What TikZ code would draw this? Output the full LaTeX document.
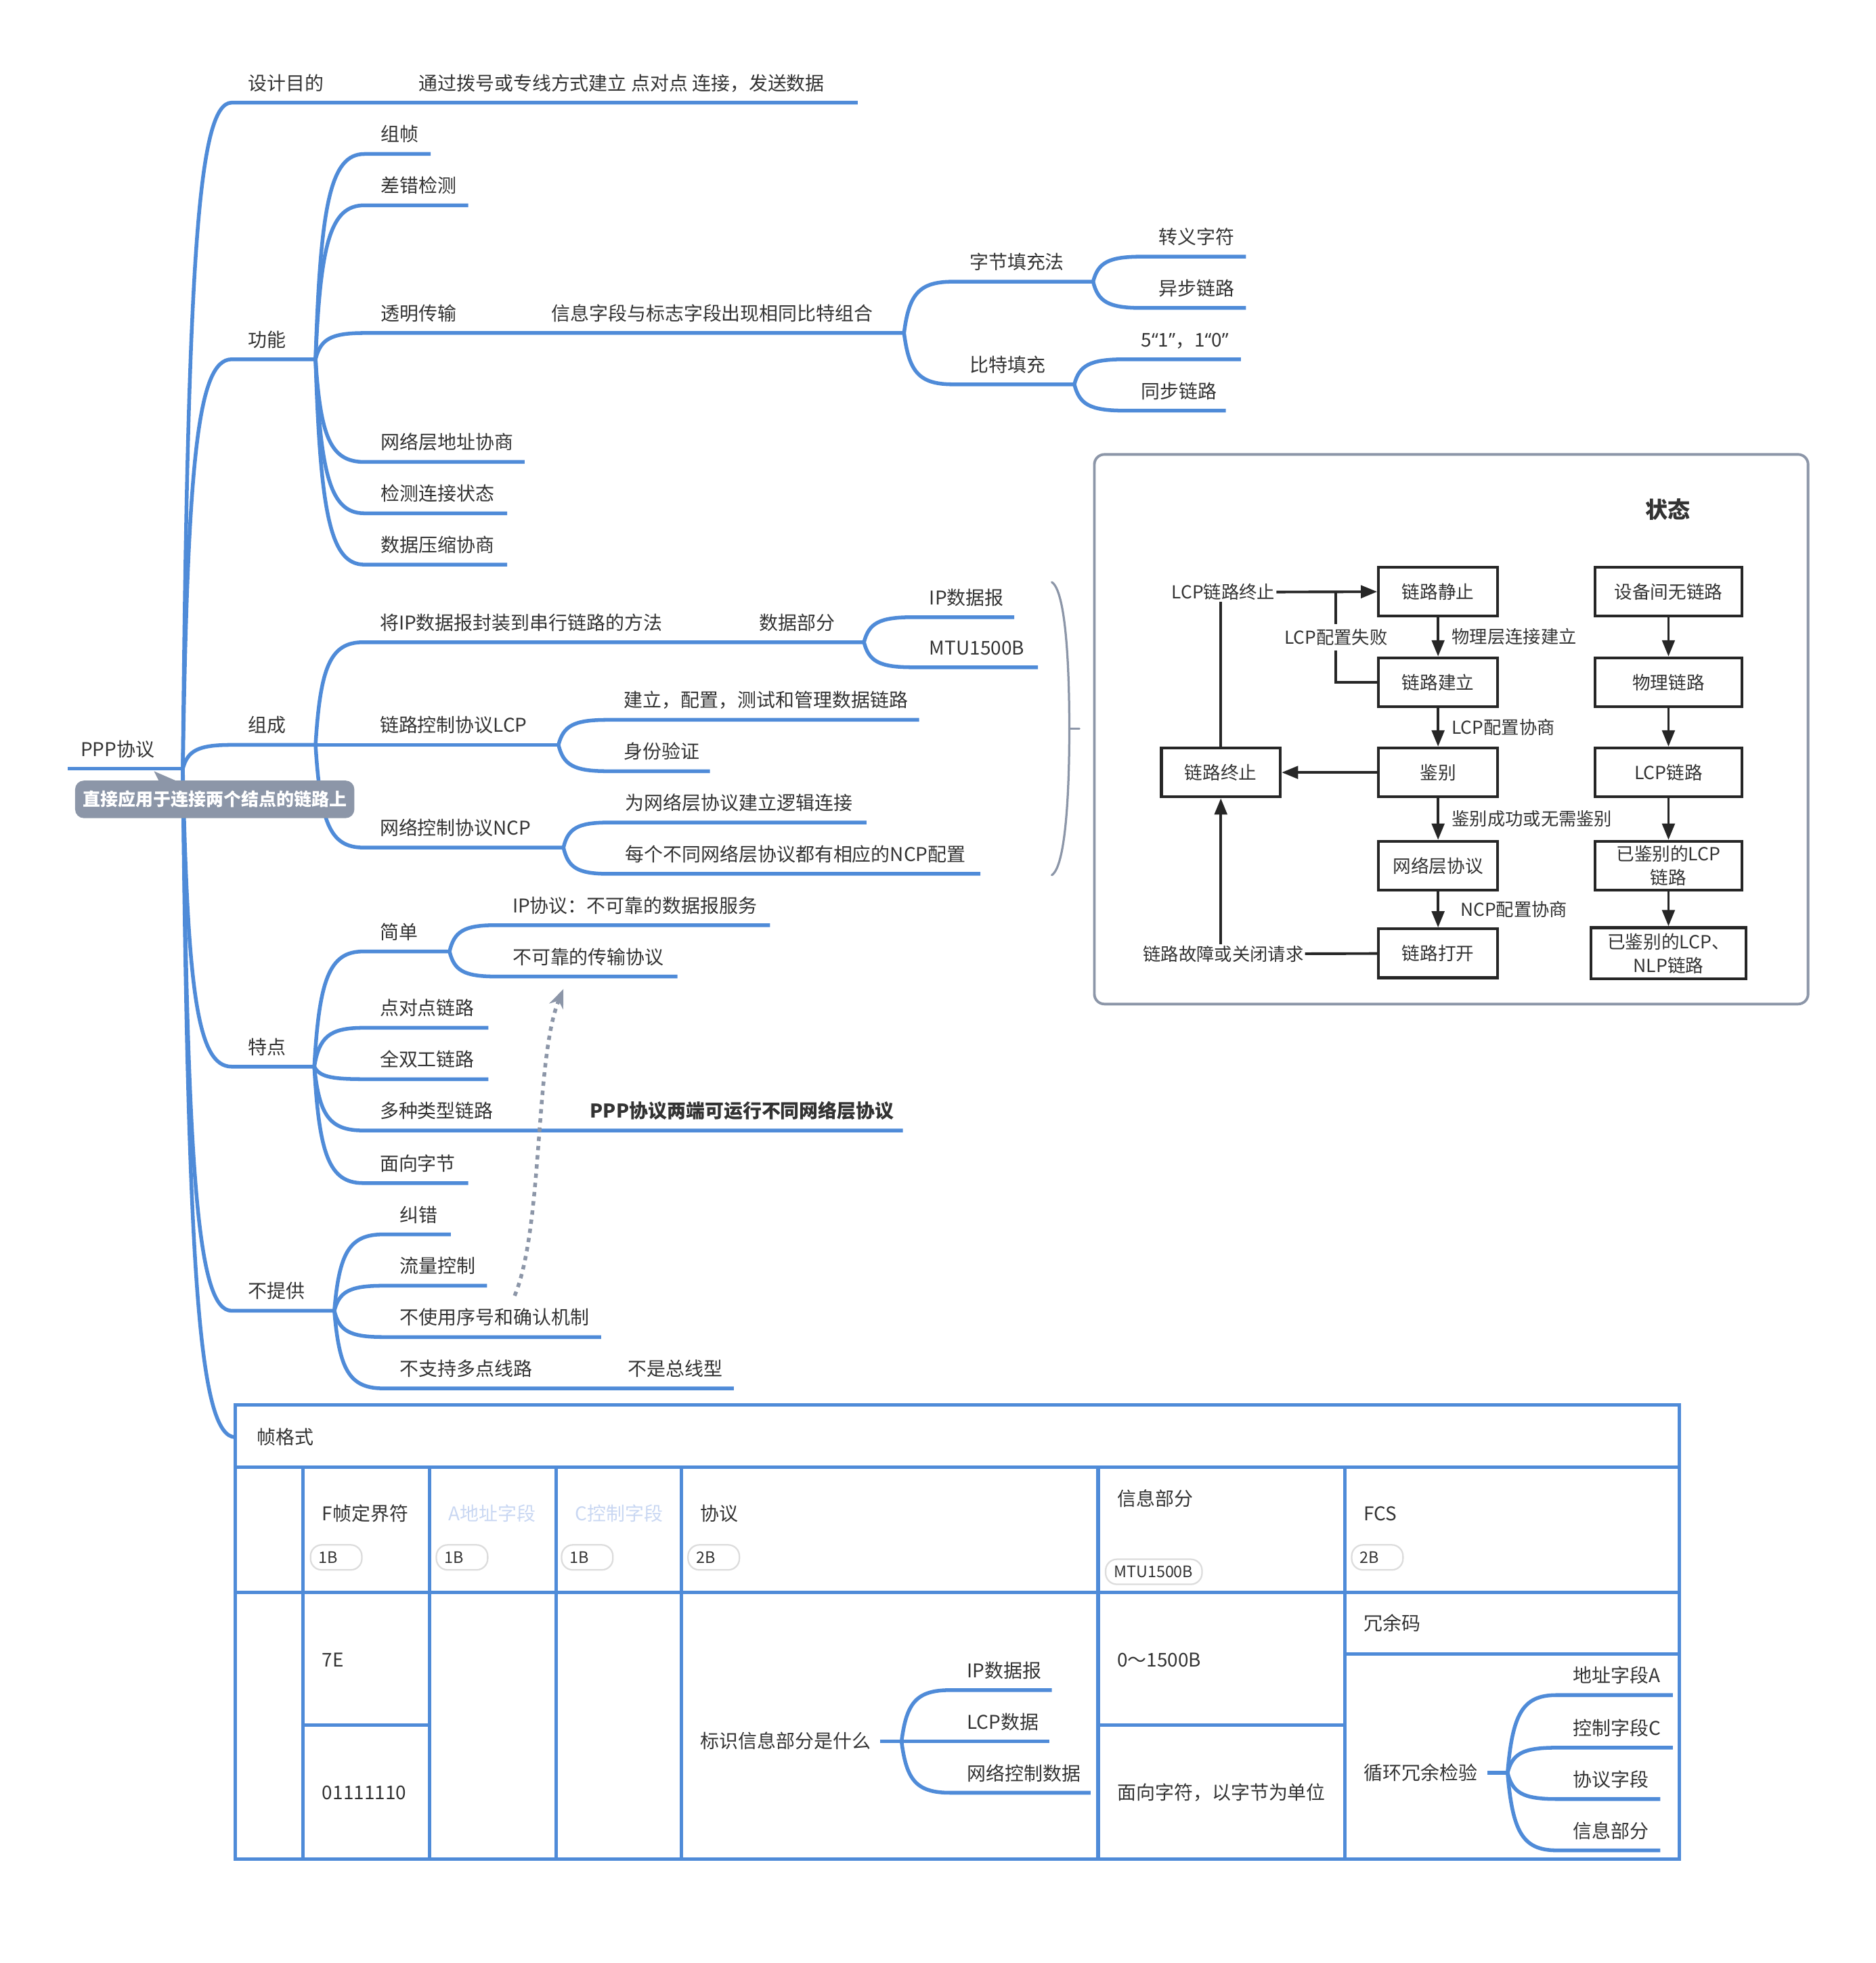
\documentclass[tikz,border=0pt]{standalone}
\usepackage{fontspec}
\setmainfont{Noto Sans CJK SC}
\newfontfamily\qfont{Open Sans}
\usetikzlibrary{arrows.meta}
\usetikzlibrary{calc, positioning}

\definecolor{mapblue}{HTML}{4F8BD8}
\definecolor{ink}{HTML}{333333}
\definecolor{slate}{HTML}{8C96A8}
\definecolor{paleblue}{HTML}{C9D7F2}
\definecolor{pillline}{HTML}{DCDCDC}

\tikzset{
  branch/.style={draw=mapblue, line width=1.7pt, line join=round},
  grid/.style={draw=mapblue, line width=1.6pt},
  topic/.style={anchor=base west, inner sep=0pt, text=ink, font=\fontsize{8.6}{10}\selectfont},
  tag/.style={draw=pillline, line width=0.7pt, rounded corners=1.8mm, text=ink,
    font=\fontsize{7.2}{8}\selectfont, minimum height=4mm, inner xsep=1.3mm, inner ysep=0pt,
    text width=5.6mm, align=left},
  note/.style={fill=slate, rounded corners=1.4mm, minimum width=44.6mm, minimum height=6mm,
    inner sep=0pt, text=white, font=\bfseries\fontsize{8}{9}\selectfont},
  panel/.style={draw=slate, line width=1.2pt, rounded corners=1.6mm},
  brace/.style={draw=slate, line width=1pt, line cap=round},
  stbox/.style={draw=black!85, line width=1.3pt, minimum width=19mm, minimum height=7.8mm,
    inner sep=0.5mm, text=ink, align=center, font=\fontsize{8.2}{10.8}\selectfont},
  stlabel/.style={inner sep=0.5pt, text=ink, font=\fontsize{8.1}{10}\selectfont},
  stline/.style={draw=black!85, line width=1.2pt},
  starrow/.style={stline, -{Triangle[length=2.6mm, width=2mm]}},
  dotlink/.style={draw=slate, line width=1.7pt, dash pattern=on 2pt off 2.2pt,
    -{Stealth[length=3mm, width=2.4mm]}},
}

\newcommand\twig[6]{%
  \coordinate (#1-s) at ({#3-13},#4);
  \coordinate (#1-e) at (#5,#4);
  \draw[branch] let \p1=(#2), \p2=(#1-s) in (\p1)
    .. controls ({\x1+0.1*(\x2-\x1)},{\y1+0.75*(\y2-\y1)}) and ({\x1+0.3*(\x2-\x1)},\y2) .. (\p2)
    -- (#1-e);
  \node[topic] (#1) at (#3,{#4-10}) {#6};
}

\begin{document}
\begin{tikzpicture}[x=0.2mm, y=-0.2mm]
\useasboundingbox (0,0) rectangle (1498,1568);

\coordinate (root-s) at (54,614);
\coordinate (root-e) at (146,614);
\draw[branch] (root-s) -- (root-e);
\node[topic] (root) at (64,604) {PPP协议};

\twig{goal}{root-e}{198}{82}{685}{设计目的}
\node[topic] (goal-txt) at (334,72) {通过拨号或专线方式建立 点对点 连接，发送数据};
\twig{func}{root-e}{198}{287}{252}{功能}
\twig{comp}{root-e}{198}{595}{252}{组成}
\twig{feat}{root-e}{198}{852}{251}{特点}
\twig{none}{root-e}{198}{1047}{267}{不提供}
\coordinate (frame-s) at (188,1148);
\draw[branch] let \p1=(root-e), \p2=(frame-s) in (\p1)
  .. controls ({\x1+0.1*(\x2-\x1)},{\y1+0.75*(\y2-\y1)}) and ({\x1+0.3*(\x2-\x1)},\y2) .. (\p2);

\twig{zhen}{func-e}{304}{123}{344}{组帧}
\twig{chk}{func-e}{304}{164}{374}{差错检测}
\twig{trans}{func-e}{304}{266}{722}{透明传输}
\node[topic] (trans-txt) at (440,256) {信息字段与标志字段出现相同比特组合};
\twig{addr}{func-e}{304}{369}{419}{网络层地址协商}
\twig{detect}{func-e}{304}{410}{405}{检测连接状态}
\twig{zip}{func-e}{304}{451}{405}{数据压缩协商}

\twig{bytef}{trans-e}{774}{225}{873}{字节填充法}
\twig{bitf}{trans-e}{774}{307}{858}{比特填充}
\twig{esc}{bytef-e}{925}{205}{995}{转义字符}
\twig{async}{bytef-e}{925}{246}{995}{异步链路}
\twig{ones}{bitf-e}{911}{287}{991}{5{\qfont“}1{\qfont”}，1{\qfont“}0{\qfont”}}
\twig{sync}{bitf-e}{911}{328}{979}{同步链路}

\twig{encap}{comp-e}{303}{513}{690}{将IP数据报封装到串行链路的方法}
\node[topic] (encap-txt) at (606,503) {数据部分};
\twig{lcp}{comp-e}{303}{595}{446}{链路控制协议LCP}
\twig{ncp}{comp-e}{303}{677}{450}{网络控制协议NCP}
\twig{ipdg}{encap-e}{742}{493}{810}{IP数据报}
\twig{mtu}{encap-e}{742}{533}{829}{MTU1500B}
\twig{lcpa}{lcp-e}{498}{575}{734}{建立，配置，测试和管理数据链路}
\twig{lcpb}{lcp-e}{498}{616}{567}{身份验证}
\twig{ncpa}{ncp-e}{499}{657}{692}{为网络层协议建立逻辑连接}
\twig{ncpb}{ncp-e}{499}{698}{783}{每个不同网络层协议都有相应的NCP配置}

\twig{simple}{feat-e}{303}{760}{359}{简单}
\twig{p2p}{feat-e}{303}{821}{390}{点对点链路}
\twig{duplex}{feat-e}{303}{862}{390}{全双工链路}
\twig{multi}{feat-e}{303}{903}{721}{多种类型链路}
\node[topic, font=\bfseries\fontsize{8.6}{10}\selectfont] (multi-txt) at (471,893) {PPP协议两端可运行不同网络层协议};
\twig{bytes}{feat-e}{303}{945}{374}{面向字节}
\twig{ipsvc}{simple-e}{409}{739}{615}{IP协议：不可靠的数据报服务}
\twig{unrel}{simple-e}{409}{780}{541}{不可靠的传输协议}

\twig{fix}{none-e}{319}{986}{360}{纠错}
\twig{flow}{none-e}{319}{1027}{389}{流量控制}
\twig{noack}{none-e}{319}{1068}{480}{不使用序号和确认机制}
\twig{nomp}{none-e}{319}{1109}{586}{不支持多点线路}
\node[topic] (nomp-txt) at (501,1099) {不是总线型};

\fill[slate] (123,616) -- (146,626) -- (128,626) -- cycle;
\node[note] (note) at (171.5,638.5) {直接应用于连接两个结点的链路上};

\coordinate (dotfrom) at (411,1035);
\coordinate (dotto) at (450,790);
\draw[dotlink] (dotfrom) .. controls (434,980) and (427,845) .. (dotto);

\draw[brace] (840,465) .. controls (851,472) and (854,530) .. (854,582)
  .. controls (854,634) and (851,692) .. (840,699);
\draw[brace] (854,582) -- (862,582);

\draw[panel] (874,363) rectangle (1444,802);
\node[stlabel, font=\bfseries\fontsize{10.2}{12}\selectfont] (sthead) at (1332,407) {状态};
\node[stbox] (quiet) at (1148.5,472.5) {链路静止};
\node[stbox] (estab) at (1148.5,545) {链路建立};
\node[stbox] (auth) at (1148.5,617) {鉴别};
\node[stbox] (netl) at (1148.5,691.5) {网络层协议};
\node[stbox] (open) at (1148.5,761.5) {链路打开};
\node[stbox] (term) at (975,617) {链路终止};
\node[stbox, minimum width=23.4mm] (nolink) at (1332.5,472.5) {设备间无链路};
\node[stbox, minimum width=23.4mm] (phys) at (1332.5,545) {物理链路};
\node[stbox, minimum width=23.4mm] (lcpl) at (1332.5,617) {LCP链路};
\node[stbox, minimum width=23.4mm] (alcp) at (1332.5,691.5) {已鉴别的LCP\\链路};
\node[stbox, minimum width=24.8mm, minimum height=8.2mm] (alcpn) at (1332.5,761.5) {已鉴别的LCP、\\NLP链路};
\node[stlabel] (lcpterm) at (977,473) {LCP链路终止};
\node[stlabel] (fault) at (977,762) {链路故障或关闭请求};
\coordinate (failtop) at (1067,473);

\draw[starrow] (lcpterm) -- (quiet);
\draw[stline] (estab) -| node[pos=0.75, stlabel, fill=white, inner sep=0.8mm] (failtxt) {LCP配置失败} (failtop);
\draw[starrow] (quiet) -- node[right=1.8mm, stlabel] {物理层连接建立} (estab);
\draw[starrow] (estab) -- node[right=1.8mm, stlabel] {LCP配置协商} (auth);
\draw[starrow] (auth) -- node[right=1.8mm, stlabel] {鉴别成功或无需鉴别} (netl);
\draw[starrow] (netl) -- node[right=3.2mm, stlabel] {NCP配置协商} (open);
\draw[starrow] (auth) -- (term);
\draw[stline] (open) -- (fault);
\draw[starrow] (fault.north -| term) -- (term);
\draw[stline] (term) -- (lcpterm.south -| term);
\draw[starrow] (nolink) -- (phys);
\draw[starrow] (phys) -- (lcpl);
\draw[starrow] (lcpl) -- (alcp);
\draw[starrow] (alcp) -- (alcpn);

\draw[grid] (188,1122) rectangle (1341,1485);
\draw[grid] (188,1172) -- (1341,1172) (188,1272) -- (1341,1272);
\foreach \cx in {242,343,444,544,877,1074}
  \draw[grid] (\cx,1172) -- (\cx,1485);
\draw[grid] (242,1378) -- (343,1378) (877,1378) -- (1074,1378) (1074,1321) -- (1341,1321);

\node[topic] (frame) at (205,1153.5) {帧格式};
\node[topic] (flag) at (257,1214.5) {F帧定界符};
\node[topic, text=paleblue] (afield) at (358,1214.5) {A地址字段};
\node[topic, text=paleblue] (cfield) at (459,1214.5) {C控制字段};
\node[topic] (proto) at (559,1214.5) {协议};
\node[topic] (info) at (892,1202.5) {信息部分};
\node[topic] (fcs) at (1089,1214.5) {FCS};
\node[tag] (flag-tag) at (268.5,1244) {1B};
\node[tag] (afield-tag) at (369,1244) {1B};
\node[tag] (cfield-tag) at (469,1244) {1B};
\node[tag] (proto-tag) at (570,1244) {2B};
\node[tag, text width=12.8mm] (info-tag) at (921.5,1255.5) {MTU1500B};
\node[tag] (fcs-tag) at (1100,1244) {2B};
\node[topic] (hex) at (257,1331.5) {7E};
\node[topic] (bin) at (257,1437.5) {01111110};
\node[topic] (len) at (892,1331.5) {0～1500B};
\node[topic] (unit) at (892,1437.5) {面向字符，以字节为单位};
\node[topic] (redund) at (1089,1302.5) {冗余码};

\node[topic] (what) at (559,1396.5) {标识信息部分是什么};
\coordinate (what-s) at (703,1391);
\coordinate (what-e) at (720,1391);
\draw[branch] (what-s) -- (what-e);
\twig{tip}{what-e}{772}{1350}{840}{IP数据报}
\twig{tlcp}{what-e}{772}{1391}{838}{LCP数据}
\twig{tnet}{what-e}{772}{1432}{871}{网络控制数据}

\node[topic] (crc) at (1089,1421.5) {循环冗余检验};
\coordinate (crc-s) at (1188,1416);
\coordinate (crc-e) at (1204,1416);
\draw[branch] (crc-s) -- (crc-e);
\twig{ca}{crc-e}{1256}{1354}{1336}{地址字段A}
\twig{cc}{crc-e}{1256}{1396}{1336}{控制字段C}
\twig{cp}{crc-e}{1256}{1437}{1326}{协议字段}
\twig{ci}{crc-e}{1256}{1478}{1326}{信息部分}
\end{tikzpicture}
\end{document}
